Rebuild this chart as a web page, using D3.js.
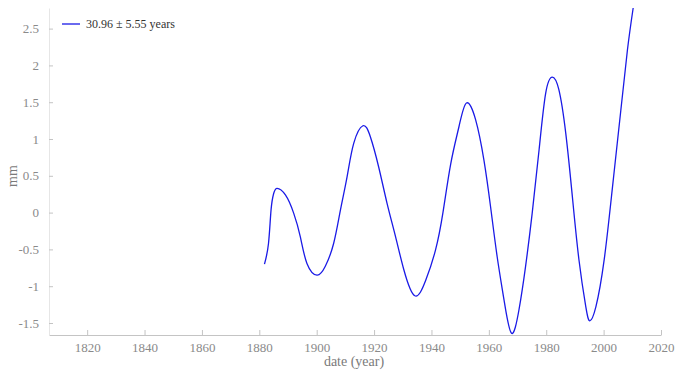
<!DOCTYPE html>
<html>
<head>
<meta charset="utf-8">
<script src="https://cdn.jsdelivr.net/npm/d3@7"></script>
<style>
  html, body { margin: 0; padding: 0; background: #fff; }
  svg { display: block; font-family: "Liberation Serif", "DejaVu Serif", serif; }
</style>
</head>
<body>
<svg id="chart" width="676" height="370"></svg>
<script>
// Fitted oscillation component of sea level (mm) by year
const years = [1881.8, 1883.2, 1884.1, 1885.0, 1886.2, 1889.1, 1892.0, 1894.3, 1896.6, 1900.1,
  1903.0, 1905.9, 1908.3, 1910.6, 1912.9, 1916.1, 1918.7, 1921.6, 1924.5, 1927.5,
  1930.4, 1934.2, 1938.0, 1941.4, 1944.0, 1946.7, 1949.6, 1952.2, 1955.4, 1958.3,
  1960.6, 1962.9, 1965.3, 1967.9, 1970.5, 1972.8, 1975.1, 1977.5, 1979.8, 1982.1,
  1984.4, 1986.8, 1989.1, 1991.4, 1993.8, 1995.2, 1997.3, 2000.2, 2003.1, 2006.0,
  2008.3, 2010.3];
const values = [-0.70, -0.42, 0.04, 0.26, 0.33, 0.24, -0.01, -0.33, -0.69, -0.85,
  -0.73, -0.42, 0.04, 0.49, 0.94, 1.18, 1.03, 0.62, 0.13, -0.33,
  -0.78, -1.13, -0.92, -0.51, 0.00, 0.66, 1.17, 1.49, 1.26, 0.71,
  0.08, -0.60, -1.19, -1.64, -1.32, -0.73, -0.01, 0.85, 1.62, 1.84,
  1.67, 1.08, 0.22, -0.64, -1.28, -1.47, -1.28, -0.64, 0.35, 1.39,
  2.21, 2.78];
const xTicks = [1820, 1840, 1860, 1880, 1900, 1920, 1940, 1960, 1980, 2000, 2020];
const yTicks = [-1.5, -1, -0.5, 0, 0.5, 1, 1.5, 2, 2.5];
const legendLabel = "30.96 \u00b1 5.55 years";

const svg = d3.select("#chart");
const plotLeft = 49, plotRight = 661, plotTop = 8, plotBottom = 335;

const x = d3.scaleLinear().domain([1806.7, 2020]).range([plotLeft, plotRight]);
const y = d3.scaleLinear().domain([-1.663, 2.78]).range([plotBottom, plotTop]);

const axisColor = "#c4c4c4";
const tickTextColor = "#8a8a8a";

// x axis with inward ticks
const gx = svg.append("g").attr("transform", `translate(0,${plotBottom})`)
  .call(d3.axisBottom(x).tickValues(xTicks).tickFormat(d3.format("d")).tickSizeInner(-5).tickSizeOuter(0).tickPadding(8));
// y axis with inward ticks
const gy = svg.append("g").attr("transform", `translate(${plotLeft},0)`)
  .call(d3.axisLeft(y).tickValues(yTicks).tickFormat(d => String(d)).tickSizeInner(-4).tickSizeOuter(0).tickPadding(10));

[gx, gy].forEach(g => {
  g.select(".domain").attr("stroke", axisColor).attr("stroke-width", 1);
  g.selectAll(".tick line").attr("stroke", axisColor);
  g.selectAll(".tick text").attr("fill", tickTextColor).attr("font-size", 13)
    .attr("font-family", "Liberation Serif, serif");
});
gy.select(".domain").attr("stroke", "#e6e6e6");

// axis titles
svg.append("text").attr("x", 354).attr("y", 366).attr("text-anchor", "middle")
  .attr("fill", "#7a7a7a").attr("font-size", 14).text("date (year)");
svg.append("text").attr("transform", "translate(17,176) rotate(-90)").attr("text-anchor", "middle")
  .attr("fill", "#7a7a7a").attr("font-size", 14).text("mm");

// clip the series to the plot area
svg.append("clipPath").attr("id", "plot").append("rect")
  .attr("x", plotLeft).attr("y", plotTop - 1).attr("width", plotRight - plotLeft).attr("height", plotBottom - plotTop + 2);

const data = years.map((yr, i) => ({ yr, v: values[i] }));
const line = d3.line().x(d => x(d.yr)).y(d => y(d.v)).curve(d3.curveNatural);
svg.append("path").datum(data).attr("clip-path", "url(#plot)")
  .attr("d", line).attr("fill", "none").attr("stroke", "#1a1ae6").attr("stroke-width", 1.3);

// legend
const lg = svg.append("g").attr("transform", "translate(62,24)");
lg.append("line").attr("x1", 0).attr("x2", 18).attr("y1", 0).attr("y2", 0)
  .attr("stroke", "#1a1ae6").attr("stroke-width", 1.3);
lg.append("text").attr("x", 24).attr("y", 4).attr("font-size", 12).attr("fill", "#333").text(legendLabel);
</script>
</body>
</html>
